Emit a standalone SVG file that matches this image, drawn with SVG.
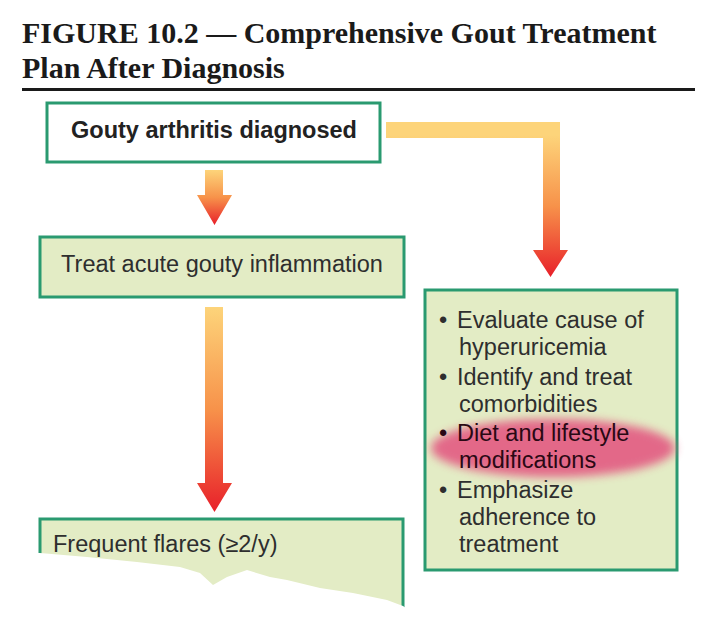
<svg xmlns="http://www.w3.org/2000/svg" width="712" height="630" viewBox="0 0 712 630">
<defs>
<style>
.box{stroke:#2a9a70;stroke-width:3}
.fillg{fill:#e3ecc5}
.t{font-family:"Liberation Sans",Arial,sans-serif;font-size:23.5px;fill:#2e2e2e}
.tb{font-family:"Liberation Sans",Arial,sans-serif;font-size:23.5px;font-weight:bold;fill:#222}
.title{font-family:"Liberation Serif","Times New Roman",serif;font-size:30px;font-weight:bold;fill:#1a1a1a}
</style>
<linearGradient id="g1" gradientUnits="userSpaceOnUse" x1="0" y1="170" x2="0" y2="225">
<stop offset="0" stop-color="#fdd47a"/><stop offset="0.5" stop-color="#f7924a"/><stop offset="1" stop-color="#e8202a"/>
</linearGradient>
<linearGradient id="g2" gradientUnits="userSpaceOnUse" x1="0" y1="307" x2="0" y2="512">
<stop offset="0" stop-color="#fdd47a"/><stop offset="0.5" stop-color="#f7924a"/><stop offset="1" stop-color="#e8202a"/>
</linearGradient>
<linearGradient id="g3" gradientUnits="userSpaceOnUse" x1="0" y1="135" x2="0" y2="277">
<stop offset="0" stop-color="#fdd47a"/><stop offset="0.5" stop-color="#f7924a"/><stop offset="1" stop-color="#e8202a"/>
</linearGradient>
<filter id="blur" x="-20%" y="-50%" width="140%" height="200%"><feGaussianBlur stdDeviation="5"/></filter>
</defs>
<rect width="712" height="630" fill="#ffffff"/>
<g id="title">
<text class="title" x="22" y="43">FIGURE 10.2 — Comprehensive Gout Treatment</text>
<text class="title" x="22" y="78">Plan After Diagnosis</text>
<rect x="22" y="88" width="673" height="3" fill="#1a1a1a"/>
</g>
<g id="connectors">
<path d="M205,170 H223 V195 H232 L214.5,225 L197,195 H205 Z" fill="url(#g1)"/>
<path d="M205,307 H223 V483 H232 L214.5,512 L197,483 H205 Z" fill="url(#g2)"/>
<path d="M386,122 H560 V250 H568 L550.5,277 L533,250 H543 V138 H386 Z" fill="url(#g3)"/>
</g>
<g id="node-diagnosed">
<rect class="box" x="47" y="103" width="333" height="59" fill="#ffffff"/>
<text class="tb" x="214" y="138" text-anchor="middle">Gouty arthritis diagnosed</text>
</g>
<g id="node-treat-acute">
<rect class="box fillg" x="40" y="237" width="364" height="60"/>
<text class="t" x="222" y="272" text-anchor="middle">Treat acute gouty inflammation</text>
</g>
<g id="node-frequent-flares">
<rect class="box fillg" x="40" y="519" width="363" height="120"/>
<text class="t" x="53" y="552">Frequent flares (≥2/y)</text>
<path d="M0,553 L40,553 L87,557 L137,562 L180,567 L200,573 L213,585 L227,577 L247,570 L270,577 L287,580 L320,588 L353,593 L387,600 L403,606 L412,612 L412,630 L0,630 Z" fill="#ffffff"/>
</g>
<g id="node-long-term">
<rect class="box fillg" x="425" y="290" width="252" height="280"/>
<ellipse cx="553" cy="448" rx="122" ry="29" fill="#e35a82" opacity="0.9" filter="url(#blur)"/>
<g class="t">
<text x="439" y="328">•</text><text x="457" y="328">Evaluate cause of</text>
<text x="459" y="355">hyperuricemia</text>
<text x="439" y="385">•</text><text x="457" y="385">Identify and treat</text>
<text x="459" y="412">comorbidities</text>
<text x="439" y="441" style="fill:#2a0814">•</text><text x="457" y="441" style="fill:#2a0814">Diet and lifestyle</text>
<text x="459" y="468" style="fill:#2a0814">modifications</text>
<text x="439" y="498">•</text><text x="457" y="498">Emphasize</text>
<text x="459" y="525">adherence to</text>
<text x="459" y="552">treatment</text>
</g>
</g>
</svg>
